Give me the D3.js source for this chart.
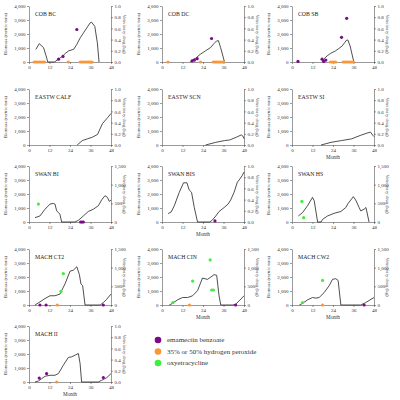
<!DOCTYPE html>
<html>
<head>
<meta charset="utf-8">
<script src="https://cdn.jsdelivr.net/npm/d3@7"></script>
<style>
  body { margin: 0; background: #fff; }
  svg text { font-family: "Liberation Serif", "DejaVu Serif", serif; }
  .axis text { font-size: 5px; fill: #333; }
  .axis path, .axis line { stroke: #555; stroke-width: 0.6; }
</style>
</head>
<body>
<svg width="400" height="400"></svg>
<script>
const svg = d3.select("svg");
const W = 82, H = 56;
const colX = [29, 162, 292];
const rowY = [6, 89, 166, 249, 326];

const monthTicks = [0, 12, 24, 36, 48];
const biomassTicks = [0, 1000, 2000, 3000, 4000];
const kgTicksSmall = [0, 0.2, 0.4, 0.6, 0.8, 1.0];
const kgTicksLarge = [0, 500, 1000, 1500];

const drugNames = ["emamectin benzoate", "35% or 50% hydrogen peroxide", "oxyetracycline"];
const drugColors = ["#7a0a87", "#fa9638", "#3cf03c"];

// biomass series: [month, metric tons]
const cobBC = [[4,900],[6,1310],[8.5,1030],[10,440],[11,0],[15,0],[16.7,160],[19.5,400],[21.4,630],[23.3,800],[26.2,910],[28,1260],[30,1730],[31.9,2080],[33.8,2430],[35.7,2780],[36.6,2850],[38.5,2550],[40,1380],[41,0]];
const cobDC = [[16.7,0],[17.6,140],[19.6,260],[22.5,560],[25.5,800],[28.4,1030],[30.4,1310],[31.9,1500],[33,1530],[34.3,1030],[36.6,0]];
const cobSB = [[17.6,0],[18.6,210],[20.6,440],[22.5,610],[25.5,800],[27.4,960],[29.4,1150],[30.8,1380],[32,1570],[32.7,1570],[34,1150],[36.2,0]];
const eastwCALF = [[28.2,0],[31.2,315],[34.2,440],[37.1,560],[40.1,750],[43,1530],[46,1950],[48,2250]];
const eastwSCN = [[25.5,0],[31.5,190],[36.6,315],[39.6,360],[43.6,560],[46.4,720],[47.3,650],[48,450]];
const eastwSI = [[17,0],[22.9,190],[28.9,315],[34.9,440],[39.9,680],[43.9,850],[45.9,920],[47.4,680],[48,600]];
const swanBI = [[3.5,310],[6.4,430],[9.4,915],[12.3,1280],[14.2,1325],[15.2,1280],[16.2,800],[17.2,675],[18.1,555],[19.1,0],[26.9,0],[28.9,120],[31.8,430],[34.7,750],[37.7,915],[40.6,1160],[42.5,1570],[44.5,1880],[45.9,1760],[47,1470],[48,1570]];
const swanBIS = [[3.6,600],[5.4,720],[7.2,1160],[10.1,2120],[12.6,2800],[14.6,2800],[15.9,2290],[17.3,2120],[18.9,1035],[20.8,0],[28,0],[29.5,145],[31.5,430],[33.4,750],[36.4,1035],[38.7,1280],[40.2,1570],[42.2,2120],[44.1,2840],[45.7,3085],[47,3325],[48,3570]];
const swanHS = [[3.7,430],[6.2,675],[9.1,1160],[12,1760],[13,1520],[15,0],[17,0],[17.9,190],[20.8,430],[24.7,625],[28.6,750],[31.5,1035],[32.8,1325],[34.4,1570],[35.9,1810],[37.3,1570],[39.3,1035],[40.2,795],[42.2,915],[43.3,1035],[45.1,0]];
const machCT2 = [[3.5,0],[6.4,220],[9.4,463],[12.3,660],[15.2,660],[18.1,780],[21.1,1510],[24,2415],[26,2490],[28,2730],[29.5,2170],[30.4,1510],[31.4,1390],[32.8,0],[41.6,0],[43.5,170],[45.5,415],[48,780]];
const machCIN = [[4.3,0],[6.2,120],[9.1,365],[12,535],[15,535],[17.9,660],[20.8,1025],[23.7,1925],[26.6,1830],[28.6,2000],[30.5,2170],[32,2120],[33.4,660],[34.4,0],[41.2,0],[43.1,50],[45.1,290],[48,660]];
const machCW2 = [[4.3,0],[6.2,120],[9.1,365],[12,535],[14,490],[15.9,535],[18.9,900],[21.8,1390],[23.7,1830],[25.6,1880],[27,1755],[28.6,0],[40.2,0],[43.1,170],[48,535]];
const machII = [[3.5,0],[5.5,70],[7.4,240],[9.4,410],[12.3,480],[15.2,480],[17.2,600],[20.1,1200],[23,1750],[25,1800],[27,1920],[28.9,2035],[29.9,1320],[30.8,0],[40.6,0],[42.5,120],[45.5,310],[48,600]];

// drug treatments: [month, kg, drug index]
const cobBCDrugs = [[3,0,1],[4,0,1],[5,0,1],[6,0,1],[7,0,1],[8,0,1],[9,0,1],[23,0,1],[30,0,1],[31,0,1],[32,0,1],[33,0,1],[34,0,1],[35,0,1],[36,0,1],[37,0,1],[17.3,0.05,0],[19.9,0.1,0],[28,0.58,0]];
const cobDCDrugs = [[3.5,0,1],[22.5,0,1],[30,0,1],[31,0,1],[32,0,1],[33,0,1],[34,0,1],[35,0,1],[36,0,1],[17.6,0.02,0],[19,0.035,0],[20.6,0.06,0],[29,0.42,0]];
const cobSBDrugs = [[3.5,0.01,0],[22.5,0,1],[23.5,0,1],[24.5,0,1],[25.5,0,1],[30,0,1],[31,0,1],[32,0,1],[33,0,1],[34,0,1],[35,0,1],[36,0,1],[17.6,0.05,0],[18.6,0.01,0],[19.8,0.035,0],[29,0.44,0],[32,0.78,0]];
const swanBIDrugs = [[5.5,480,2],[30.2,0,0],[31,0,0],[31.8,0,0]];
const swanBISDrugs = [[31,0.02,0]];
const swanHSDrugs = [[5.8,550,2],[6.8,117,2]];
const machCT2Drugs = [[6.4,0,0],[10,0,0],[16.6,0,1],[18.7,366,2],[20.1,840,2],[43.5,0,0]];
const machCINDrugs = [[6.4,64,2],[16.1,0,1],[17.9,640,2],[28.2,1207,2],[29.1,402,2],[30.1,402,2],[43.1,0,0]];
const machCW2Drugs = [[6.2,64,2],[17.9,0,1],[17.9,658,2],[42.2,0,0]];
const machIIDrugs = [[6,0.07,0],[10.3,0.15,0],[16.2,0,1],[43.5,0.08,0]];

const panels = [
  { name: "COB BC", col: 0, row: 0, bio: cobBC, drugs: cobBCDrugs, kgMax: 1, month: false },
  { name: "COB DC", col: 1, row: 0, bio: cobDC, drugs: cobDCDrugs, kgMax: 1, month: false },
  { name: "COB SB", col: 2, row: 0, bio: cobSB, drugs: cobSBDrugs, kgMax: 1, month: false },
  { name: "EASTW CALF", col: 0, row: 1, bio: eastwCALF, drugs: [], kgMax: 1, month: false },
  { name: "EASTW SCN", col: 1, row: 1, bio: eastwSCN, drugs: [], kgMax: 1, month: false },
  { name: "EASTW SI", col: 2, row: 1, bio: eastwSI, drugs: [], kgMax: 1, month: true },
  { name: "SWAN BI", col: 0, row: 2, bio: swanBI, drugs: swanBIDrugs, kgMax: 1500, month: false },
  { name: "SWAN BIS", col: 1, row: 2, bio: swanBIS, drugs: swanBISDrugs, kgMax: 1, month: true },
  { name: "SWAN HS", col: 2, row: 2, bio: swanHS, drugs: swanHSDrugs, kgMax: 1500, month: false },
  { name: "MACH CT2", col: 0, row: 3, bio: machCT2, drugs: machCT2Drugs, kgMax: 1500, month: false },
  { name: "MACH CIN", col: 1, row: 3, bio: machCIN, drugs: machCINDrugs, kgMax: 1500, month: true },
  { name: "MACH CW2", col: 2, row: 3, bio: machCW2, drugs: machCW2Drugs, kgMax: 1500, month: true },
  { name: "MACH II", col: 0, row: 4, bio: machII, drugs: machIIDrugs, kgMax: 1, month: true }
];

const x = d3.scaleLinear().domain([0, 48]).range([0, W]);
const y = d3.scaleLinear().domain([0, 4000]).range([H, 0]);

panels.forEach(p => {
  const g = svg.append("g").attr("transform", `translate(${colX[p.col]},${rowY[p.row]})`);
  const y2 = d3.scaleLinear().domain([0, p.kgMax]).range([H, 0]);
  const kgTicks = p.kgMax === 1 ? kgTicksSmall : kgTicksLarge;

  g.append("g").attr("class", "axis").attr("transform", `translate(0,${H})`)
    .call(d3.axisBottom(x).tickValues(monthTicks).tickSize(2).tickSizeOuter(0).tickPadding(1.5));
  g.append("g").attr("class", "axis")
    .call(d3.axisLeft(y).tickValues(biomassTicks).tickFormat(d3.format(",")).tickSize(2).tickSizeOuter(0).tickPadding(1.5));
  g.append("g").attr("class", "axis").attr("transform", `translate(${W},0)`)
    .call(d3.axisRight(y2).tickValues(kgTicks).tickFormat(p.kgMax === 1 ? d3.format(".1f") : d3.format(",")).tickSize(2).tickSizeOuter(0).tickPadding(1.5));

  g.append("text").attr("transform", `translate(-22,${H / 2}) rotate(-90)`)
    .attr("text-anchor", "middle").style("font-size", "4.8px").attr("fill", "#333")
    .text("Biomass (metric tons)");
  g.append("text").attr("transform", `translate(${W + 12},${H / 2}) rotate(90)`)
    .attr("text-anchor", "middle").style("font-size", "4.8px").attr("fill", "#333")
    .text("Veterinary drug (kg)");
  g.append("text").attr("x", 6).attr("y", 10).style("font-size", "5.8px").attr("fill", "#222")
    .text(p.name);
  if (p.month) {
    g.append("text").attr("x", W / 2).attr("y", H + 14).attr("text-anchor", "middle")
      .style("font-size", "5.2px").attr("fill", "#333").text("Month");
  }

  const line = d3.line().x(d => x(d[0])).y(d => y(d[1]));
  g.append("path").datum(p.bio).attr("fill", "none").attr("stroke", "#222")
    .attr("stroke-width", 0.8).attr("d", line);

  g.selectAll(".drug").data(p.drugs.slice().sort((a, b) => (a[2] === 1) - (b[2] === 1)).reverse())
    .join("circle")
    .attr("cx", d => x(d[0])).attr("cy", d => y2(d[1]))
    .attr("r", 1.6).attr("fill", d => drugColors[d[2]]);
});

const legend = svg.append("g").attr("transform", "translate(158,340)");
const items = legend.selectAll("g").data(drugNames).join("g")
  .attr("transform", (d, i) => `translate(0,${i * 11.5})`);
items.append("circle").attr("r", 3.3).attr("fill", (d, i) => drugColors[i]);
items.append("text").attr("x", 9).attr("y", 2.3).style("font-size", "7px").attr("fill", "#333").text(d => d);
</script>
</body>
</html>
